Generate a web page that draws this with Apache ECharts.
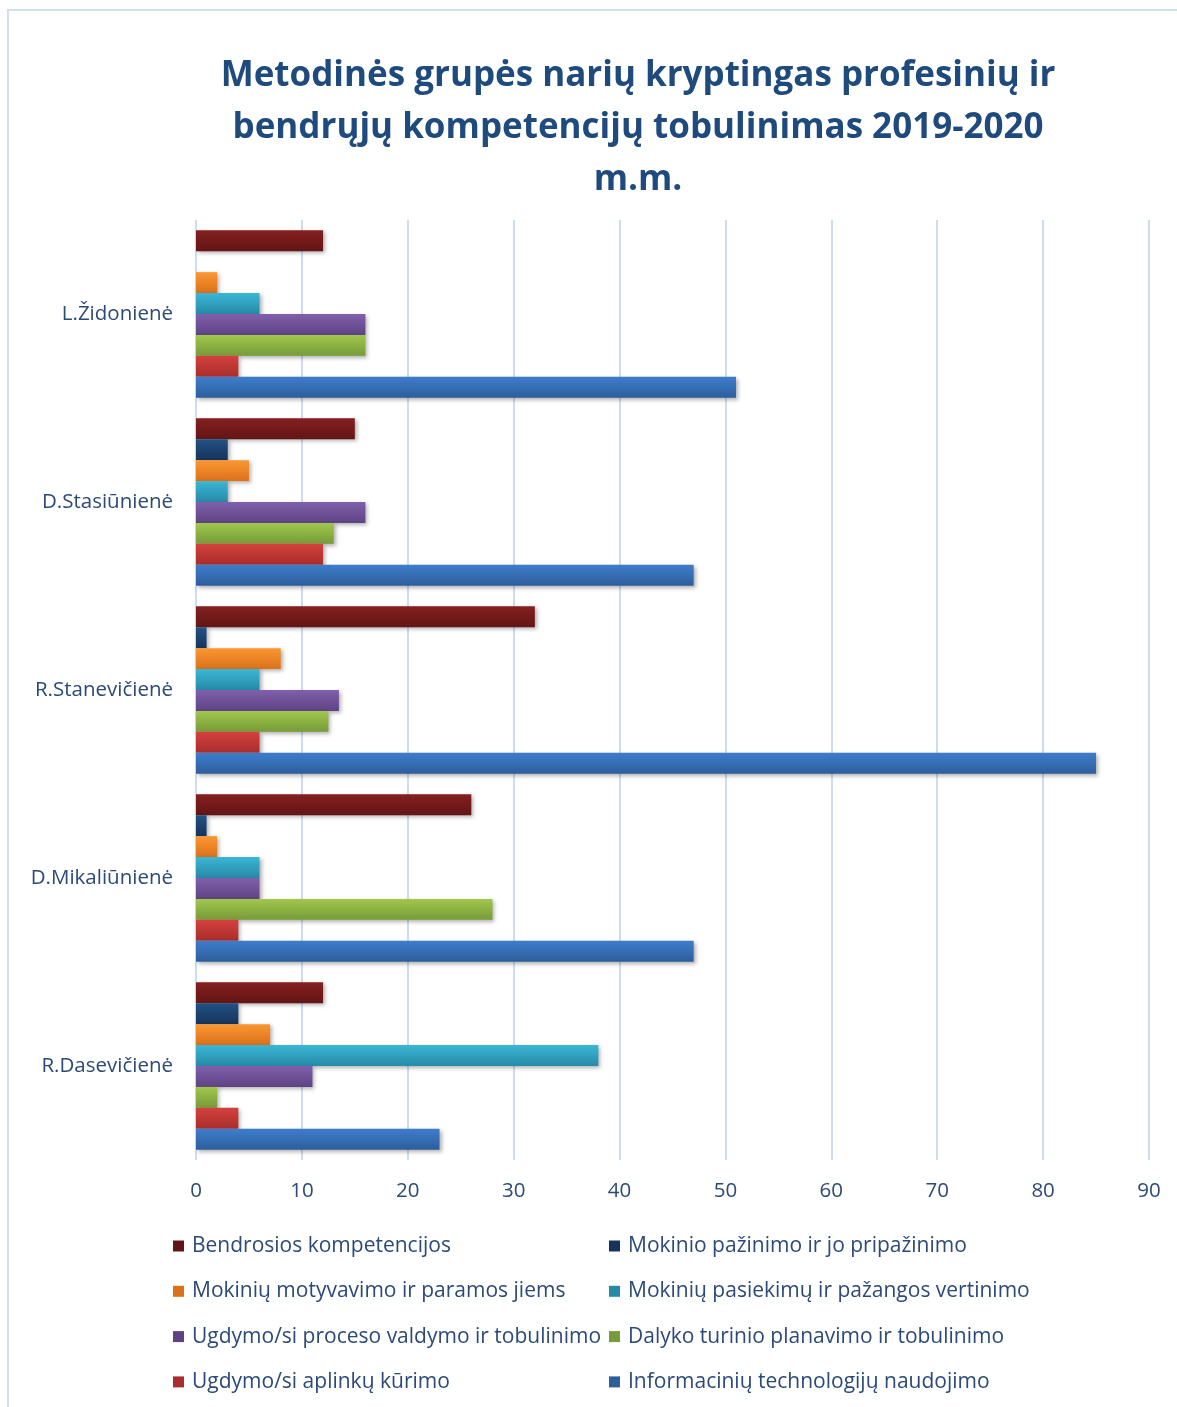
<!DOCTYPE html>
<html>
<head>
<meta charset="utf-8">
<script src="https://cdn.jsdelivr.net/npm/echarts@6/dist/echarts.min.js"></script>
<style>
html,body{margin:0;padding:0;background:#fff;}
#main{width:1177px;height:1407px;}
</style>
</head>
<body>
<div id="main"></div>
<script>
// Categories, top to bottom
const categories = ['L.Židonienė', 'D.Stasiūnienė', 'R.Stanevičienė', 'D.Mikaliūnienė', 'R.Dasevičienė'];

// Series names (legend order)
const seriesNames = [
  'Bendrosios kompetencijos',
  'Mokinio pažinimo ir jo pripažinimo',
  'Mokinių motyvavimo ir paramos jiems',
  'Mokinių pasiekimų ir pažangos vertinimo',
  'Ugdymo/si proceso valdymo ir tobulinimo',
  'Dalyko turinio planavimo ir tobulinimo',
  'Ugdymo/si aplinkų kūrimo',
  'Informacinių technologijų naudojimo'
];

// Values per series, in category order (top to bottom)
const bendrosios   = [12, 15, 32, 26, 12];
const pazinimo     = [0, 3, 1, 1, 4];
const motyvavimo   = [2, 5, 8, 2, 7];
const pasiekimu    = [6, 3, 6, 6, 38];
const procesoVald  = [16, 16, 13.5, 6, 11];
const dalykoTurin  = [16, 13, 12.5, 28, 2];
const aplinku      = [4, 12, 6, 4, 4];
const infTech      = [51, 47, 85, 47, 23];

const xTicks = [0, 10, 20, 30, 40, 50, 60, 70, 80, 90];

const seriesData = [bendrosios, pazinimo, motyvavimo, pasiekimu, procesoVald, dalykoTurin, aplinku, infTech];

const colorPairs = [
  ['#85201f', '#621515'],
  ['#215284', '#16345b'],
  ['#fb9733', '#dc7119'],
  ['#3bb6d6', '#268aa7'],
  ['#8060ab', '#5e4384'],
  ['#a1c74d', '#779b38'],
  ['#d4413e', '#a92d2b'],
  ['#3e7dcc', '#2d5e9c']
];

const labelColor = '#2b4a78';
const fontFam = 'Open Sans';

const series = seriesNames.map((name, i) => ({
  name: name,
  type: 'bar',
  data: seriesData[i],
  barGap: '0%',
  barCategoryGap: '11%',
  itemStyle: {
    color: new echarts.graphic.LinearGradient(0, 0, 0, 1, [
      {offset: 0, color: colorPairs[i][0]},
      {offset: 1, color: colorPairs[i][1]}
    ]),
    shadowColor: 'rgba(0,0,0,0.3)',
    shadowBlur: 4,
    shadowOffsetX: 2,
    shadowOffsetY: 2
  },
  emphasis: {disabled: true}
}));

const legendIcon = (name) => ({name: name, itemStyle: {color: colorPairs[seriesNames.indexOf(name)][1]}});

const legendCommon = {
  orient: 'vertical',
  top: 1234,
  padding: 0,
  icon: 'rect',
  itemWidth: 11,
  itemHeight: 11,
  itemGap: 21.3,
  selectedMode: false,
  textStyle: {
    fontFamily: fontFam,
    fontSize: 21,
    color: labelColor,
    lineHeight: 24,
    padding: [0, 0, 0, 3]
  }
};

const chart = echarts.init(document.getElementById('main'));
chart.setOption({
  animation: false,
  graphic: [
    {
      type: 'rect',
      shape: {x: 8, y: 10, width: 1220, height: 1440},
      style: {fill: 'none', stroke: '#d3deed', lineWidth: 2},
      silent: true
    },
    {
      type: 'text',
      x: 638,
      y: 50,
      style: {
        text: 'Metodinės grupės narių kryptingas profesinių ir\nbendrųjų kompetencijų tobulinimas 2019-2020\nm.m.',
        align: 'center',
        verticalAlign: 'top',
        fontFamily: fontFam,
        fontWeight: 'bold',
        fontSize: 35,
        lineHeight: 52,
        fill: '#1f4a7d'
      },
      silent: true
    }
  ],
  legend: [
    Object.assign({}, legendCommon, {
      left: 173,
      data: [seriesNames[0], seriesNames[2], seriesNames[4], seriesNames[6]].map(legendIcon)
    }),
    Object.assign({}, legendCommon, {
      left: 609,
      data: [seriesNames[1], seriesNames[3], seriesNames[5], seriesNames[7]].map(legendIcon)
    })
  ],
  grid: {left: 196, right: 28, top: 220, bottom: 247, containLabel: false},
  xAxis: {
    type: 'value',
    min: xTicks[0],
    max: xTicks[xTicks.length - 1],
    interval: 10,
    axisLine: {show: false},
    axisTick: {show: false},
    splitLine: {lineStyle: {color: '#cfdcef', width: 2}},
    axisLabel: {fontFamily: fontFam, fontSize: 20.5, color: labelColor, margin: 21}
  },
  yAxis: {
    type: 'category',
    data: categories,
    inverse: true,
    axisLine: {show: false},
    axisTick: {show: false},
    axisLabel: {fontFamily: fontFam, fontSize: 20.5, color: labelColor, margin: 23}
  },
  series: series
});
</script>
</body>
</html>
